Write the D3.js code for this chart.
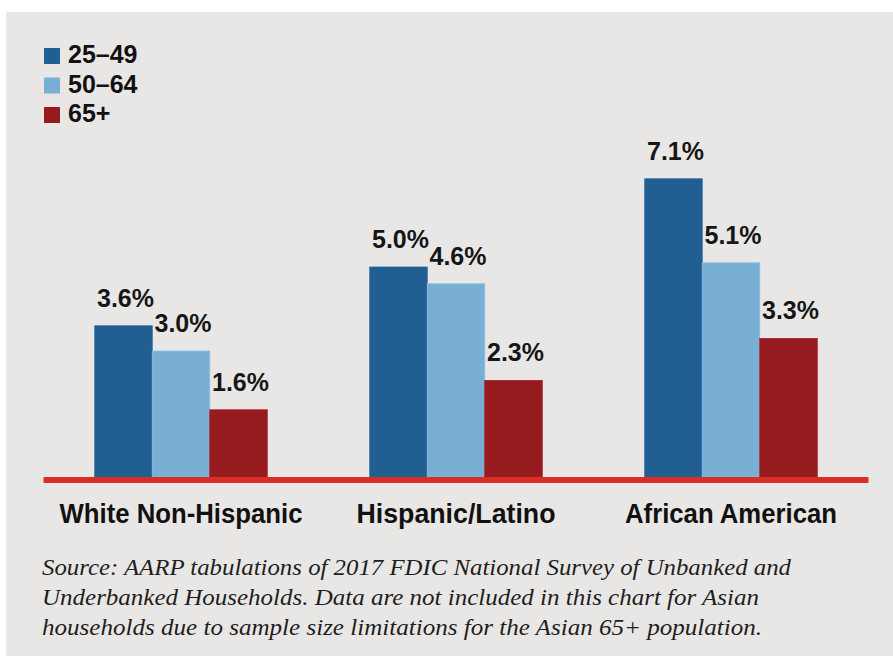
<!DOCTYPE html>
<html>
<head>
<meta charset="utf-8">
<script src="https://cdn.jsdelivr.net/npm/d3@7"></script>
<style>
  html, body { margin: 0; padding: 0; background: #ffffff; }
  svg { display: block; }
</style>
</head>
<body>
<svg id="chart" width="893" height="656"></svg>
<script>
// Unbanked rates by race/ethnicity and age group (percent)
const categories = ["White Non-Hispanic", "Hispanic/Latino", "African American"];
const seriesNames = ["25\u201349", "50\u201364", "65+"];
const values2549 = [3.6, 5.0, 7.1];
const values5064 = [3.0, 4.6, 5.1];
const values65 = [1.6, 2.3, 3.3];
const seriesColors = ["#215e92", "#7aafd5", "#961b1f"];
const sourceLines = [
  "Source: AARP tabulations of 2017 FDIC National Survey of Unbanked and",
  "Underbanked Households. Data are not included in this chart for Asian",
  "households due to sample size limitations for the Asian 65+ population."
];

const seriesValues = [values2549, values5064, values65];
const rows = categories.map((c, i) => ({
  category: c,
  bars: seriesNames.map((s, j) => ({ series: s, value: seriesValues[j][i], color: seriesColors[j] }))
}));

const svg = d3.select("#chart");

// panel background
svg.append("rect").attr("x", 6).attr("y", 12).attr("width", 887).attr("height", 644).attr("fill", "#e9e7e5");

const baseY = 477;
const x0 = d3.scaleBand().domain(categories).range([43.5, 868.5]).padding(0);
const x1 = d3.scaleBand().domain(seriesNames).range([0, x0.bandwidth()]).paddingInner(0).paddingOuter(0.891);
const y = d3.scaleLinear().domain([0, 8]).range([baseY, baseY - 336]);

const groups = svg.append("g").selectAll("g").data(rows).join("g")
  .attr("transform", d => `translate(${x0(d.category)},0)`);

groups.selectAll("rect").data(d => d.bars).join("rect")
  .attr("x", d => x1(d.series))
  .attr("y", d => y(d.value))
  .attr("width", x1.bandwidth())
  .attr("height", d => y(0) - y(d.value))
  .attr("fill", d => d.color)
  .attr("stroke", d => d3.color(d.color).brighter(0.25))
  .attr("stroke-width", 0.8);

groups.selectAll("text").data(d => d.bars).join("text")
  .attr("x", d => x1(d.series) + x1.bandwidth() / 2 + 2)
  .attr("y", d => y(d.value) - 19)
  .attr("text-anchor", "middle")
  .attr("font-family", "'Liberation Sans', Arial, sans-serif")
  .attr("font-weight", "bold")
  .attr("font-size", 25)
  .attr("fill", "#161616")
  .text(d => d.value.toFixed(1) + "%");

// baseline
svg.append("rect")
  .attr("x", x0.range()[0]).attr("y", baseY)
  .attr("width", x0.range()[1] - x0.range()[0]).attr("height", 6)
  .attr("fill", "#d92d28");

// category labels
const catWidths = [243, 199, 212];
svg.append("g").selectAll("text").data(categories).join("text")
  .attr("x", d => x0(d) + x0.bandwidth() / 2)
  .attr("y", 523)
  .attr("text-anchor", "middle")
  .attr("font-family", "'Liberation Sans', Arial, sans-serif")
  .attr("font-weight", "bold")
  .attr("font-size", 27)
  .attr("fill", "#111")
  .attr("textLength", (d, i) => catWidths[i])
  .attr("lengthAdjust", "spacingAndGlyphs")
  .text(d => d);

// legend
const legend = svg.append("g").selectAll("g").data(seriesNames).join("g")
  .attr("transform", (d, i) => `translate(44,${48 + i * 29.5})`);
legend.append("rect").attr("width", 16).attr("height", 16).attr("fill", (d, i) => seriesColors[i]);
legend.append("text")
  .attr("x", 24).attr("y", 15)
  .attr("font-family", "'Liberation Sans', Arial, sans-serif")
  .attr("font-weight", "bold")
  .attr("font-size", 25)
  .attr("fill", "#111")
  .text(d => d);

// source note
const srcWidths = [749, 717, 720];
svg.append("g").selectAll("text").data(sourceLines).join("text")
  .attr("x", 42)
  .attr("y", (d, i) => 575 + i * 30)
  .attr("font-family", "'Liberation Serif', 'Times New Roman', serif")
  .attr("font-style", "italic")
  .attr("font-size", 24)
  .attr("fill", "#1e1e1e")
  .attr("textLength", (d, i) => srcWidths[i])
  .attr("lengthAdjust", "spacingAndGlyphs")
  .text(d => d);
</script>
</body>
</html>
